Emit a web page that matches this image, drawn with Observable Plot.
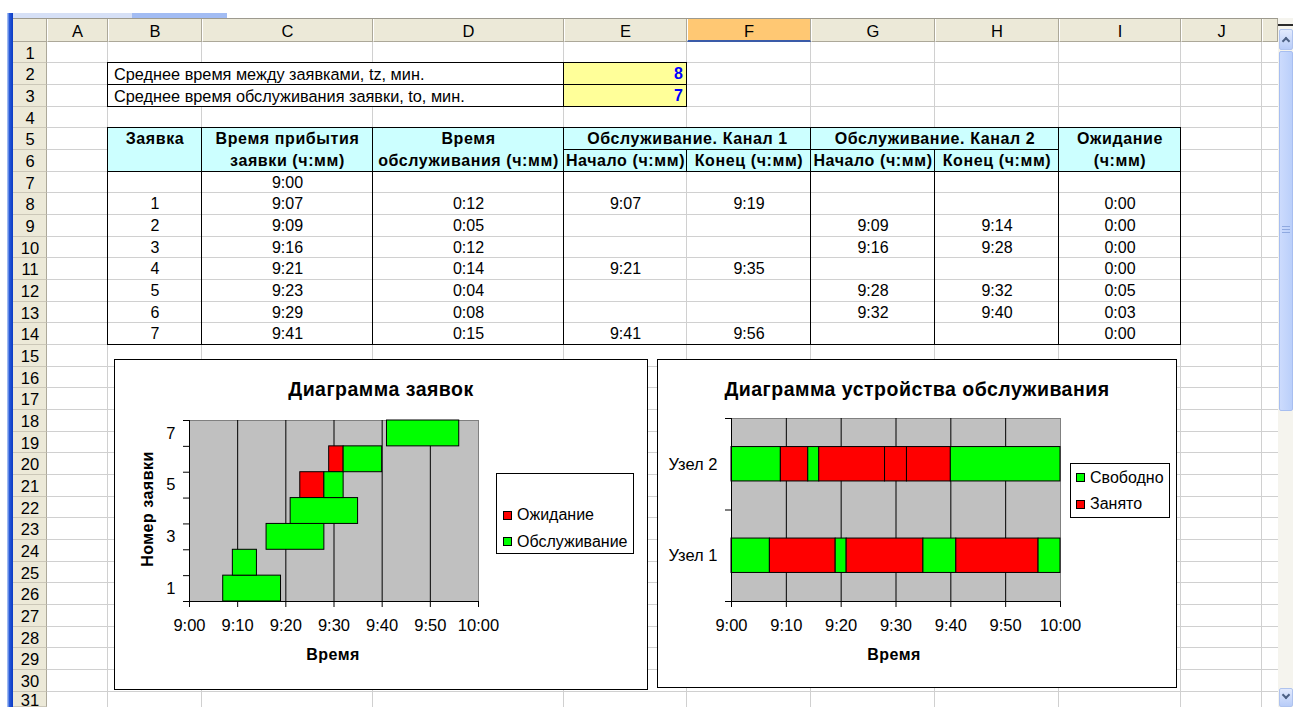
<!DOCTYPE html>
<html>
<head>
<meta charset="utf-8">
<script src="https://cdn.jsdelivr.net/npm/d3@7"></script>
<script src="https://cdn.jsdelivr.net/npm/@observablehq/plot@0.6"></script>
<style>
html, body { margin:0; padding:0; background:#fff; }
#sheet { position:relative; width:1293px; height:707px; overflow:hidden; background:#fff;
  font-family:"Liberation Sans", Arial, sans-serif; color:#000; }
#sheet div { position:absolute; box-sizing:border-box; }
#sheet .t { white-space:nowrap; font-size:16px; line-height:18px; }
#sheet svg { position:absolute; left:0; top:0; }
</style>
</head>
<body>
<div id="sheet"></div>
<script>
// ---------------- data ----------------
const columnLetters = ["A","B","C","D","E","F","G","H","I","J"];
const paramLabels = ["Среднее время между заявками, tz, мин.", "Среднее время обслуживания заявки, to, мин."];
const paramValues = [8, 7];
const headerRow5 = ["Заявка", "Время прибытия", "Время", "Обслуживание. Канал 1", "Обслуживание. Канал 2", "Ожидание"];
const headerRow6 = ["заявки (ч:мм)", "обслуживания (ч:мм)", "Начало (ч:мм)", "Конец (ч:мм)", "Начало (ч:мм)", "Конец (ч:мм)", "(ч:мм)"];
const startTime = "9:00";
const requestNo = [1, 2, 3, 4, 5, 6, 7];
const arrival = ["9:07", "9:09", "9:16", "9:21", "9:23", "9:29", "9:41"];
const serviceTime = ["0:12", "0:05", "0:12", "0:14", "0:04", "0:08", "0:15"];
const ch1Start = ["9:07", "", "", "9:21", "", "", "9:41"];
const ch1End = ["9:19", "", "", "9:35", "", "", "9:56"];
const ch2Start = ["", "9:09", "9:16", "", "9:28", "9:32", ""];
const ch2End = ["", "9:14", "9:28", "", "9:32", "9:40", ""];
const waitTime = ["0:00", "0:00", "0:00", "0:00", "0:05", "0:03", "0:00"];
const timeTicks = [0, 10, 20, 30, 40, 50, 60];           // minutes after 9:00
const timeTickLabels = ["9:00", "9:10", "9:20", "9:30", "9:40", "9:50", "10:00"];
const requestTickLabels = [1, 3, 5, 7];
const nodes = ["Узел 1", "Узел 2"];
const chartTitles = ["Диаграмма заявок", "Диаграмма устройства обслуживания"];
const axisTitles = ["Время", "Номер заявки"];
const legendLeft = ["Ожидание", "Обслуживание"];
const legendRight = ["Свободно", "Занято"];

// ---------------- helpers ----------------
const sheet = document.getElementById("sheet");
const R = Math.round;
function el(parent, x, y, w, h, css) {
  const d = document.createElement("div");
  d.style.left = x + "px"; d.style.top = y + "px";
  if (w != null) d.style.width = w + "px";
  if (h != null) d.style.height = h + "px";
  if (css) d.style.cssText += css;
  parent.appendChild(d);
  return d;
}
function label(parent, str, x, y, align, css) {
  const d = document.createElement("div");
  d.className = "t";
  d.textContent = str;
  d.style.left = x + "px"; d.style.top = y + "px";
  const tx = align === "left" ? "0" : align === "right" ? "-100%" : "-50%";
  d.style.transform = `translate(${tx}, -50%)`;
  if (css) d.style.cssText += css;
  parent.appendChild(d);
  return d;
}
const colLeft = [47, 108, 202, 373, 564, 687, 811, 935, 1059, 1181, 1262, 1278]; // A..K, end
const colMid = i => (colLeft[i] + colLeft[i + 1]) / 2;
const rowTop = n => 41.7 + (n - 1) * 21.667;
const rowMid = n => rowTop(n) + 10.8;
const GRID = "#D0D0D0";
function vl(X, Y1, Y2, c) { el(sheet, X - 1, R(Y1) - 1, 1, R(Y2) - R(Y1) + 1, "background:" + (c || "#000")); }
function hl(X1, X2, Y, c) { el(sheet, X1 - 1, R(Y) - 1, X2 - X1 + 1, 1, "background:" + (c || "#000")); }

// ---------------- grid ----------------
for (let i = 1; i < colLeft.length - 1; i++) vl(colLeft[i], 42, 707, GRID);
for (let n = 2; n <= 32; n++) hl(47, 1278, rowTop(n), GRID);

// parameter block rows 2-3
el(sheet, 108, R(rowTop(2)), 456, R(rowTop(4)) - R(rowTop(2)), "background:#fff");
el(sheet, 564, R(rowTop(2)), 123, R(rowTop(4)) - R(rowTop(2)), "background:#FFFF99");
hl(108, 687, rowTop(2)); hl(108, 687, rowTop(3)); hl(108, 687, rowTop(4));
vl(108, rowTop(2), rowTop(4)); vl(564, rowTop(2), rowTop(4)); vl(687, rowTop(2), rowTop(4));
paramLabels.forEach((s, i) => label(sheet, s, 114, rowMid(2 + i), "left", "font-size:16.3px"));
paramValues.forEach((v, i) => label(sheet, String(v), 683, rowMid(2 + i), "right", "font-weight:bold;color:#0000FF"));

// main table rows 5-14
el(sheet, 108, R(rowTop(5)), 1181 - 108, R(rowTop(7)) - R(rowTop(5)), "background:#CCFFFF");
hl(108, 1181, rowTop(5)); hl(108, 1181, rowTop(7)); hl(108, 1181, rowTop(15));
hl(564, 1059, rowTop(6));
[108, 202, 373, 564, 811, 935, 1059, 1181].forEach(x => vl(x, rowTop(x === 935 ? 6 : 5), rowTop(15)));
vl(687, rowTop(6), rowTop(7));

const HB = "font-weight:bold;letter-spacing:0.6px";
const h5x = [colMid(1), colMid(2), colMid(3), (564 + 811) / 2, (811 + 1059) / 2, colMid(8)];
headerRow5.forEach((s, i) => label(sheet, s, h5x[i], rowMid(5), "center", HB));
const h6x = [colMid(2), colMid(3), colMid(4), colMid(5), colMid(6), colMid(7), colMid(8)];
headerRow6.forEach((s, i) => label(sheet, s, h6x[i], rowMid(6), "center", HB));

label(sheet, startTime, colMid(2), rowMid(7), "center");
requestNo.forEach((n, i) => {
  const r = 8 + i;
  const vals = [String(n), arrival[i], serviceTime[i], ch1Start[i], ch1End[i], ch2Start[i], ch2End[i], waitTime[i]];
  vals.forEach((v, j) => { if (v) label(sheet, v, colMid(1 + j), rowMid(r), "center"); });
});

// ---------------- headers ----------------
el(sheet, 13, 18, 1265, 1, "background:#9D9A8E");
el(sheet, 13, 19, 34, 23, "background:#ECE9D8;border-right:1px solid #ACA899;border-bottom:1px solid #ACA899");
for (let i = 0; i <= 10; i++) {
  const w = colLeft[i + 1] - colLeft[i];
  const sel = i === 5;
  el(sheet, colLeft[i], 19, w, 23, (sel ? "background:#FFC873;border-bottom:2px solid #3A5BA8;" : "background:#ECE9D8;border-bottom:1px solid #ACA899;") + "border-right:1px solid #ACA899;border-left:1px solid #fff");
  if (i < 10) label(sheet, columnLetters[i], colMid(i), 30.5, "center", "font-size:16.5px");
}
for (let n = 1; n <= 31; n++) {
  const y1 = R(rowTop(n)), y2 = Math.min(707, R(rowTop(n + 1)));
  el(sheet, 13, y1, 34, y2 - y1, "background:#ECE9D8;border-bottom:1px solid #CBC7B8;border-right:1px solid #ACA899");
  if (n < 31) label(sheet, String(n), 30, rowMid(n), "center", "font-size:16.5px");
  else label(sheet, String(n), 30, 699.5, "center", "font-size:16.5px;line-height:14px");
}
// window chrome
el(sheet, 7, 13, 6, 694, "background:linear-gradient(to right,#9DB9F2 0,#9DB9F2 1px,#2A5BDA 2px,#0A3BC4 6px)");
el(sheet, 13, 13, 119, 5, "background:#D6E0F6");
el(sheet, 132, 13, 95, 5, "background:#A2BCF3");
// scrollbar
el(sheet, 1278, 18, 15, 689, "background:#F5F4EE");
el(sheet, 1278, 24, 15, 2, "background:#2B2B2B");
el(sheet, 1279, 29, 14, 21, "background:linear-gradient(#E2EAFD,#B8CCF8);border:1px solid #AFC3EE;border-radius:2px");
el(sheet, 1283, 38, 6, 6, "border-left:2px solid #4D6185;border-top:2px solid #4D6185;transform:rotate(45deg)");
el(sheet, 1279, 51, 14, 360, "background:linear-gradient(to right,#CCDBFD,#BACFFA);border:1px solid #A7BEF0;border-radius:2px");
el(sheet, 1282, 226, 8, 1, "background:#8FA9E0"); el(sheet, 1282, 229, 8, 1, "background:#8FA9E0"); el(sheet, 1282, 232, 8, 1, "background:#8FA9E0");
el(sheet, 1279, 688, 14, 19, "background:linear-gradient(#E2EAFD,#B8CCF8);border:1px solid #AFC3EE;border-radius:2px");
el(sheet, 1283, 692, 6, 6, "border-right:2px solid #4D6185;border-bottom:2px solid #4D6185;transform:rotate(45deg)");

// ---------------- chart data ----------------
const hm = s => { const [h, m] = s.split(":").map(Number); return h * 60 + m; };
const t0 = hm(startTime);
const tEnd = timeTicks[timeTicks.length - 1];
const requests = requestNo.map((n, i) => {
  const arr = hm(arrival[i]) - t0;
  const start = hm(ch1Start[i] || ch2Start[i]) - t0;
  return {n, arr, waitEnd: arr + hm(waitTime[i]), start, end: start + hm(serviceTime[i])};
});
const waitBars = requests.filter(d => d.waitEnd > d.arr);
function nodeSegments(idx, starts, ends) {
  const busy = starts.map((s, i) => s ? {x1: hm(s) - t0, x2: hm(ends[i]) - t0} : null)
    .filter(Boolean).sort((a, b) => a.x1 - b.x1);
  const segs = []; let t = 0;
  for (const b of busy) {
    if (b.x1 > t) segs.push({node: idx, x1: t, x2: b.x1, state: legendRight[0]});
    segs.push({node: idx, x1: b.x1, x2: b.x2, state: legendRight[1]});
    t = b.x2;
  }
  if (t < tEnd) segs.push({node: idx, x1: t, x2: tEnd, state: legendRight[0]});
  return segs;
}
const segments = [...nodeSegments(0, ch1Start, ch1End), ...nodeSegments(1, ch2Start, ch2End)];

const GREEN = "#00FF00", RED = "#FF0000", PLOTBG = "#C0C0C0";
const fmtTime = d => timeTickLabels[timeTicks.indexOf(d)];
const plotStyle = {fontFamily: '"Liberation Sans", Arial, sans-serif', fontSize: "16.5px", color: "#000", background: "transparent", overflow: "visible"};

function chartBox(x, y, w, h) {
  return el(sheet, x, y, w, h, "background:#fff");
}
function legend(box, x, y, w, h, items, colors, rows, textX, sqX) {
  el(box, x, y, w, h, "border:1px solid #000;background:#fff");
  items.forEach((s, i) => {
    el(box, sqX, rows[i] - 4.5, 9, 9, `background:${colors[i]};border:1px solid #000`);
    label(box, s, textX, rows[i], "left");
  });
}

// ---------------- left chart ----------------
const boxL = chartBox(114, 359, 534, 331);
const yBounds = requestNo.map(n => n - 0.5).concat(requestNo[requestNo.length - 1] + 0.5);
const leftPlot = Plot.plot({
  width: 534, height: 331,
  marginLeft: 75, marginRight: 170, marginTop: 61, marginBottom: 89,
  x: {domain: [0, tEnd]},
  y: {domain: [0.5, 7.5]},
  style: plotStyle,
  marks: [
    Plot.frame({fill: PLOTBG, stroke: "#808080"}),
    Plot.ruleX(timeTicks.slice(1, -1), {stroke: "#000"}),
    Plot.rect(waitBars, {x1: "arr", x2: "waitEnd", y1: d => d.n - 0.5, y2: d => d.n + 0.5, fill: RED, stroke: "#000"}),
    Plot.rect(requests, {x1: "start", x2: "end", y1: d => d.n - 0.5, y2: d => d.n + 0.5, fill: GREEN, stroke: "#000"}),
    Plot.ruleX([0], {stroke: "#000"}),
    Plot.ruleY([0.5], {stroke: "#000"}),
    Plot.axisX({ticks: timeTicks, tickFormat: fmtTime, tickSize: 6, tickPadding: 12, label: null}),
    Plot.axisY({ticks: requestTickLabels, tickFormat: d => String(d), tickSize: 0, tickPadding: 14, label: null}),
    Plot.axisY({ticks: yBounds, tickSize: 6, tickFormat: () => "", label: null})
  ]
});
boxL.appendChild(leftPlot);
el(boxL, 0, 0, 534, 331, "border:1px solid #000");
label(boxL, chartTitles[0], 267, 29.5, "center", "font-size:19.5px;font-weight:bold;letter-spacing:0.5px");
label(boxL, axisTitles[0], 219, 296, "center", "font-weight:bold;letter-spacing:0.5px");
label(boxL, axisTitles[1], 34, 150, "center", "font-weight:bold;letter-spacing:0.5px;transform:translate(-50%,-50%) rotate(-90deg)");
legend(boxL, 382, 114, 138, 81, legendLeft, [RED, GREEN], [156, 182.7], 403, 389);

// ---------------- right chart ----------------
const boxR = chartBox(657, 359, 520, 329);
const half = 0.188;
const rightPlot = Plot.plot({
  width: 520, height: 329,
  marginLeft: 74, marginRight: 117, marginTop: 59, marginBottom: 87,
  x: {domain: [0, tEnd]},
  y: {domain: [0, nodes.length]},
  color: {domain: legendRight, range: [GREEN, RED]},
  style: plotStyle,
  marks: [
    Plot.frame({fill: PLOTBG, stroke: "#808080"}),
    Plot.ruleX(timeTicks.slice(1, -1), {stroke: "#000"}),
    Plot.rect(segments, {x1: "x1", x2: "x2", y1: d => d.node + 0.5 - half, y2: d => d.node + 0.5 + half, fill: "state", stroke: "#000"}),
    Plot.ruleX([0], {stroke: "#000"}),
    Plot.ruleY([0], {stroke: "#000"}),
    Plot.axisX({ticks: timeTicks, tickFormat: fmtTime, tickSize: 6, tickPadding: 12, label: null}),
    Plot.axisY({ticks: nodes.map((s, i) => i + 0.5), tickFormat: d => nodes[Math.floor(d)], tickSize: 0, tickPadding: 14, label: null}),
    Plot.axisY({ticks: d3.range(nodes.length + 1), tickSize: 6, tickFormat: () => "", label: null})
  ]
});
boxR.appendChild(rightPlot);
el(boxR, 0, 0, 520, 329, "border:1px solid #000");
label(boxR, chartTitles[1], 260, 29.5, "center", "font-size:19.5px;font-weight:bold;letter-spacing:0.5px");
label(boxR, axisTitles[0], 237, 296, "center", "font-weight:bold;letter-spacing:0.5px");
legend(boxR, 413, 104, 100, 55, legendRight, [GREEN, RED], [118.7, 145.3], 433, 419);
</script>
</body>
</html>
